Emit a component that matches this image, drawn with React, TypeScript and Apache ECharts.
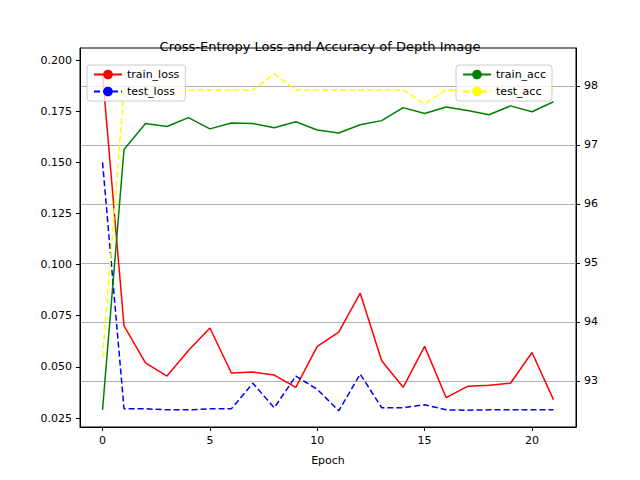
import React, { useEffect, useRef } from "react";
import * as echarts from "echarts";

const epochs = Array.from({ length: 22 }, (_, i) => i);
const trainLoss = [0.193, 0.070, 0.052, 0.0455, 0.058, 0.069, 0.047, 0.0475, 0.046, 0.040, 0.060, 0.067, 0.086, 0.053, 0.040, 0.060, 0.035, 0.0405, 0.041, 0.042, 0.057, 0.034];
const testLoss = [0.150, 0.0295, 0.0295, 0.029, 0.029, 0.0295, 0.0295, 0.042, 0.030, 0.0455, 0.039, 0.0285, 0.0465, 0.030, 0.030, 0.0315, 0.029, 0.0288, 0.029, 0.029, 0.029, 0.029];
const trainAcc = [92.51, 96.92, 97.36, 97.31, 97.46, 97.27, 97.37, 97.36, 97.29, 97.39, 97.25, 97.2, 97.34, 97.41, 97.63, 97.53, 97.64, 97.58, 97.51, 97.66, 97.56, 97.73];
const testAcc = [93.4, 97.93, 97.93, 97.93, 97.93, 97.93, 97.93, 97.93, 98.2, 97.93, 97.93, 97.93, 97.93, 97.93, 97.93, 97.69, 97.93, 97.93, 97.93, 97.93, 97.93, 97.93];
const xTicks = [0, 5, 10, 15, 20];
const leftTicks = [0.025, 0.05, 0.075, 0.1, 0.125, 0.15, 0.175, 0.2];
const rightTicks = [93, 94, 95, 96, 97, 98];

const F = "DejaVu Sans";

export default function App() {
  const ref = useRef<HTMLDivElement>(null);
  useEffect(() => {
    const chart = echarts.init(ref.current!, null, { renderer: "svg" });
    const axisCommon = {
      axisLine: { show: true, onZero: false, lineStyle: { color: "#000", width: 1 } },
      axisTick: { show: true, length: 4, lineStyle: { color: "#000" } },
      axisLabel: { color: "#000", fontFamily: F, fontSize: 11 },
    };
    const legendBase = {
      orient: "vertical",
      backgroundColor: "rgba(255,255,255,0.8)",
      borderColor: "#ccc",
      borderWidth: 1,
      borderRadius: 3,
      padding: [4, 6],
      itemGap: 6,
      itemWidth: 28,
      itemHeight: 12,
      textStyle: { fontFamily: F, fontSize: 11, color: "#000" },
    };
    chart.setOption({
      animation: false,
      backgroundColor: "#fff",
      title: {
        text: "Cross-Entropy Loss and Accuracy of Depth Image",
        left: "center", top: 35,
        textStyle: { fontFamily: F, fontSize: 13, fontWeight: "normal", color: "#000" },
      },
      grid: { left: 80, right: 64, top: 48, bottom: 53, show: true, borderColor: "#000", borderWidth: 1 },
      legend: [
        Object.assign({}, legendBase, { id: "l1", left: 87, top: 65, data: ["train_loss", "test_loss"] }),
        Object.assign({}, legendBase, { id: "l2", left: 456, top: 65, data: ["train_acc", "test_acc"] }),
      ],
      xAxis: {
        type: "value", min: -1.05, max: 22.05,
        name: "Epoch", nameLocation: "middle", nameGap: 28,
        nameTextStyle: { fontFamily: F, fontSize: 11, color: "#000" },
        ...axisCommon,
        axisTick: { ...axisCommon.axisTick, customValues: xTicks },
        axisLabel: { ...axisCommon.axisLabel, customValues: xTicks },
        splitLine: { show: false },
      },
      yAxis: [
        {
          type: "value", min: 0.0206, max: 0.2059, position: "left",
          ...axisCommon,
          axisTick: { ...axisCommon.axisTick, customValues: leftTicks },
          axisLabel: { ...axisCommon.axisLabel, customValues: leftTicks, formatter: (v: number) => v.toFixed(3) },
          splitLine: { show: false },
        },
        {
          type: "value", min: 92.22, max: 98.64, position: "right",
          ...axisCommon,
          axisTick: { ...axisCommon.axisTick, customValues: rightTicks },
          axisLabel: { ...axisCommon.axisLabel, customValues: rightTicks },
          splitLine: { show: true, lineStyle: { color: "#b0b0b0", width: 1 } },
        },
      ],
      series: [
        { name: "train_loss", type: "line", yAxisIndex: 0, data: epochs.map((e, i) => [e, trainLoss[i]]), symbol: "none", lineStyle: { color: "red", width: 1.5 }, itemStyle: { color: "red" } },
        { name: "test_loss", type: "line", yAxisIndex: 0, data: epochs.map((e, i) => [e, testLoss[i]]), symbol: "none", lineStyle: { color: "blue", width: 1.5, type: [6, 3] }, itemStyle: { color: "blue" } },
        { name: "train_acc", type: "line", yAxisIndex: 1, data: epochs.map((e, i) => [e, trainAcc[i]]), symbol: "none", lineStyle: { color: "green", width: 1.5 }, itemStyle: { color: "green" } },
        { name: "test_acc", type: "line", yAxisIndex: 1, data: epochs.map((e, i) => [e, testAcc[i]]), symbol: "none", lineStyle: { color: "yellow", width: 1.5, type: [6, 3] }, itemStyle: { color: "yellow" } },
      ],
    });
    return () => chart.dispose();
  }, []);
  return <div ref={ref} style={{ width: 640, height: 480, position: "absolute", left: 0, top: 0 }} />;
}
